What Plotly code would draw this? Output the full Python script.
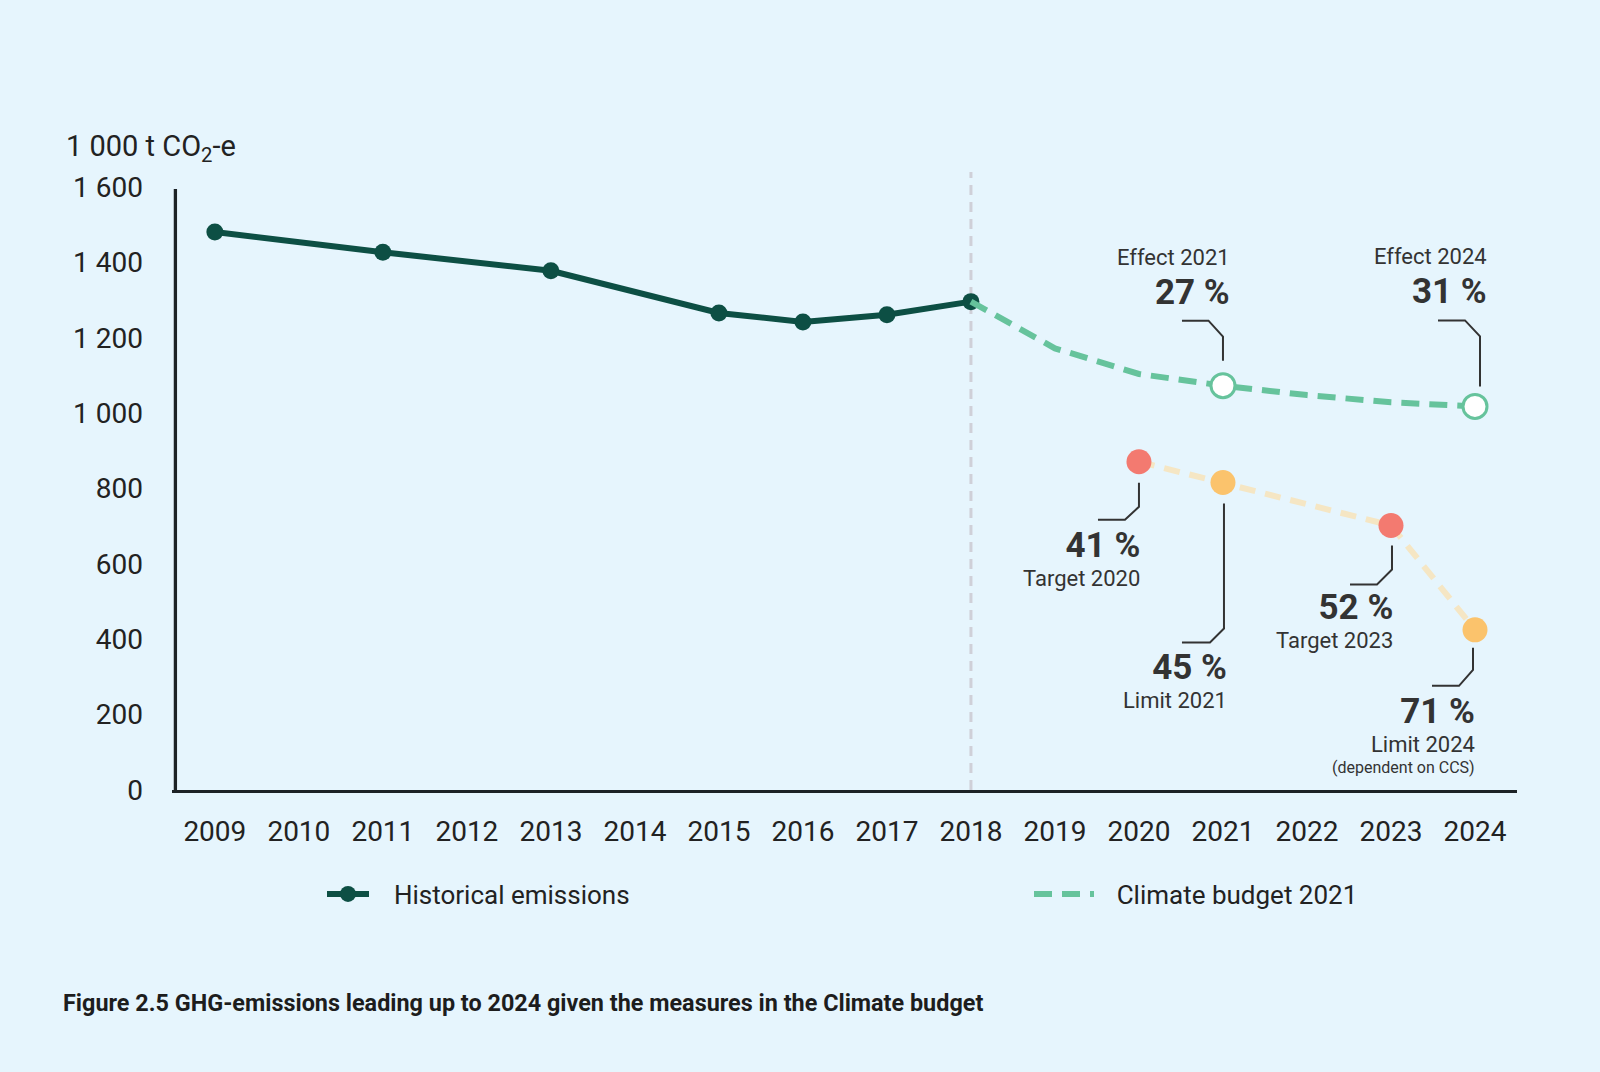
import plotly.graph_objects as go

# ---------------- data ----------------
hist_years = [2009, 2011, 2013, 2015, 2016, 2017, 2018]
hist_values = [1481, 1427, 1378, 1266, 1242, 1261, 1296]

budget_years = [2018, 2019, 2020, 2021, 2022, 2023, 2024]
budget_values = [1296, 1172, 1104, 1073, 1048, 1029, 1018]

effect_years = [2021, 2024]
effect_values = [1073, 1018]
effect_pct = ["27 %", "31 %"]
effect_labels = ["Effect 2021", "Effect 2024"]

goal_years = [2020, 2021, 2023, 2024]
goal_values = [871, 816, 702, 425]
goal_kinds = ["target", "limit", "target", "limit"]
goal_pct = ["41 %", "45 %", "52 %", "71 %"]
goal_labels = ["Target 2020", "Limit 2021", "Target 2023", "Limit 2024"]
goal_notes = ["", "", "", "(dependent on CCS)"]

x_ticks = list(range(2009, 2025))
x_ticktext = [str(y) for y in x_ticks]
y_ticks = [0, 200, 400, 600, 800, 1000, 1200, 1400, 1600]
y_ticktext = ["0", "200", "400", "600", "800", "1 000", "1 200", "1 400", "1 600"]

y_title = "1 000 t CO<sub>2</sub>-e"
caption = "Figure 2.5 GHG-emissions leading up to 2024 given the measures in the Climate budget"
legend_names = ["Historical emissions", "Climate budget 2021"]

# ---------------- style ----------------
BG = "#e6f5fd"
DARK = "#0d4f44"
GREEN = "#66c39c"
RED = "#f37a70"
ORANGE = "#fbc36c"
CREAM = "#f5e6c4"
INK = "#333333"
AXIS = "#1c2226"
FONT = "Roboto"

X_RANGE = [2008.49, 2024.5]
Y_RANGE = [0, 1640]
ML, MR, MT, MB = 172, 83, 172, 282
W, H = 1600, 1072
PLOT_W = W - ML - MR
PLOT_H = H - MT - MB
PX_X = PLOT_W / (X_RANGE[1] - X_RANGE[0])
PX_Y = PLOT_H / (Y_RANGE[1] - Y_RANGE[0])


def off(x, y, px, py):
    """data point shifted by pixel offsets (py positive = downwards)"""
    return x + px / PX_X, y - py / PX_Y


fig = go.Figure()

fig.add_trace(go.Scatter(
    x=hist_years, y=hist_values, mode="lines+markers",
    name="\u2002\u2005" + legend_names[0],
    line=dict(color=DARK, width=6),
    marker=dict(color=DARK, size=17),
    legend="legend",
))

fig.add_trace(go.Scatter(
    x=budget_years, y=budget_values, mode="lines",
    name="\u2002\u2006" + legend_names[1],
    line=dict(color=GREEN, width=6, dash="18px,10px"),
    legend="legend2",
))

fig.add_trace(go.Scatter(
    x=effect_years, y=effect_values, mode="markers",
    showlegend=False, name="Effect",
    marker=dict(color="white", size=24, line=dict(color=GREEN, width=3)),
))

kind_color = {"target": RED, "limit": ORANGE}
fig.add_trace(go.Scatter(
    x=goal_years, y=goal_values, mode="lines+markers",
    showlegend=False, name="Targets",
    line=dict(color=CREAM, width=6, dash="16px,10px"),
    marker=dict(color=[kind_color[k] for k in goal_kinds], size=25),
))

shapes = []
annotations = []

# vertical separator at last historical year
shapes.append(dict(type="line", xref="x", yref="y",
                   x0=hist_years[-1], x1=hist_years[-1], y0=0, y1=Y_RANGE[1],
                   line=dict(color="#cfd0d8", width=3, dash="10px,7px"),
                   layer="below"))

# y axis line
shapes.append(dict(type="line", xref="x", yref="y",
                   x0=X_RANGE[0] + 3.4 / PX_X, x1=X_RANGE[0] + 3.4 / PX_X,
                   y0=-4 / PX_Y, y1=1595,
                   line=dict(color=AXIS, width=3.3)))


def leader(x, y, pts):
    coords = [off(x, y, px, py) for px, py in pts]
    path = "M" + " L".join(f"{cx},{cy}" for cx, cy in coords)
    shapes.append(dict(type="path", xref="x", yref="y", path=path,
                       line=dict(color=INK, width=2)))


TEXT_DX = 5
PCT = '<span style="font-size:35px"><b>{}</b></span>'
LBL = '<span style="font-size:22px">{}</span>'


def block(x, y, text, px, py, base, anchor="top"):
    annotations.append(dict(
        x=x, y=y, xref="x", yref="y", text=text,
        showarrow=False, xanchor="right", yanchor=anchor,
        xshift=px + TEXT_DX, yshift=-py, align="right",
        font=dict(family=FONT, size=base, color=INK)))


# effect annotations (above the green line): label over percentage
effect_leaders = [
    [(0, -25), (0, -49), (-14.5, -65), (-41, -65)],
    [(5, -20), (5, -70), (-10, -86), (-37, -86)],
]
effect_text_pos = [(4, -143), (9, -164)]
for i in range(len(effect_years)):
    x, y = effect_years[i], effect_values[i]
    leader(x, y, effect_leaders[i])
    px, py = effect_text_pos[i]
    txt = LBL.format(effect_labels[i]) + "<br>" + PCT.format(effect_pct[i])
    block(x, y, txt, px, py, 30)

# target / limit annotations (below the points): percentage over label
goal_leaders = [
    [(0, 21), (0, 45), (-14, 58), (-41, 58)],
    [(1, 21), (1, 146), (-13, 160), (-41, 160)],
    [(1, 20), (1, 44), (-14, 59), (-41, 59)],
    [(-2, 18), (-2, 40), (-16, 56), (-43, 56)],
]
goal_text_pos = [(-2, 61), (1, 162), (-1, 60), (-3, 59)]
goal_note_pos = [None, None, None, (-3, 138)]
for i in range(len(goal_years)):
    x, y = goal_years[i], goal_values[i]
    leader(x, y, goal_leaders[i])
    px, py = goal_text_pos[i]
    txt = PCT.format(goal_pct[i]) + "<br>" + LBL.format(goal_labels[i])
    block(x, y, txt, px, py, 22.5)
    if goal_note_pos[i] and goal_notes[i]:
        nx, ny = goal_note_pos[i]
        block(x, y, goal_notes[i], nx, ny, 16, anchor="middle")

# axis title
annotations.append(dict(
    x=(64 - ML) / PLOT_W, y=(PLOT_H + MT - 148) / PLOT_H, xref="paper", yref="paper",
    text=y_title, showarrow=False, xanchor="left", yanchor="middle",
    font=dict(family=FONT, size=29, color="#222222")))

# caption
annotations.append(dict(
    x=(61 - ML) / PLOT_W, y=(PLOT_H + MT - 1003) / PLOT_H, xref="paper", yref="paper",
    text=f"<b>{caption}</b>", showarrow=False, xanchor="left", yanchor="middle",
    font=dict(family=FONT, size=23.4, color="#1d1d1d")))

fig.update_layout(
    width=W, height=H,
    margin=dict(l=ML, r=MR, t=MT, b=MB, pad=0),
    paper_bgcolor=BG, plot_bgcolor=BG,
    font=dict(family=FONT, color="#222222"),
    shapes=shapes, annotations=annotations,
    legend=dict(orientation="h", x=(322 - ML) / PLOT_W, y=(PLOT_H + MT - 894) / PLOT_H,
                xanchor="left", yanchor="middle", bgcolor="rgba(0,0,0,0)",
                itemwidth=42, font=dict(family=FONT, size=26, color="#222222")),
    legend2=dict(orientation="h", x=(1029 - ML) / PLOT_W, y=(PLOT_H + MT - 894) / PLOT_H,
                 xanchor="left", yanchor="middle", bgcolor="rgba(0,0,0,0)",
                 itemwidth=60, font=dict(family=FONT, size=26, color="#222222")),
    xaxis=dict(range=X_RANGE, tickmode="array", tickvals=x_ticks, ticktext=x_ticktext,
               showgrid=False, zeroline=False, showline=True, linecolor=AXIS, linewidth=3.3,
               ticks="", ticklabelstandoff=14,
               tickfont=dict(family=FONT, size=28, color="#222222")),
    yaxis=dict(range=Y_RANGE, tickmode="array", tickvals=y_ticks, ticktext=y_ticktext,
               showgrid=False, zeroline=False, showline=False,
               ticks="", ticklabelstandoff=28,
               tickfont=dict(family=FONT, size=28, color="#222222")),
)

fig.write_html("out.html")
